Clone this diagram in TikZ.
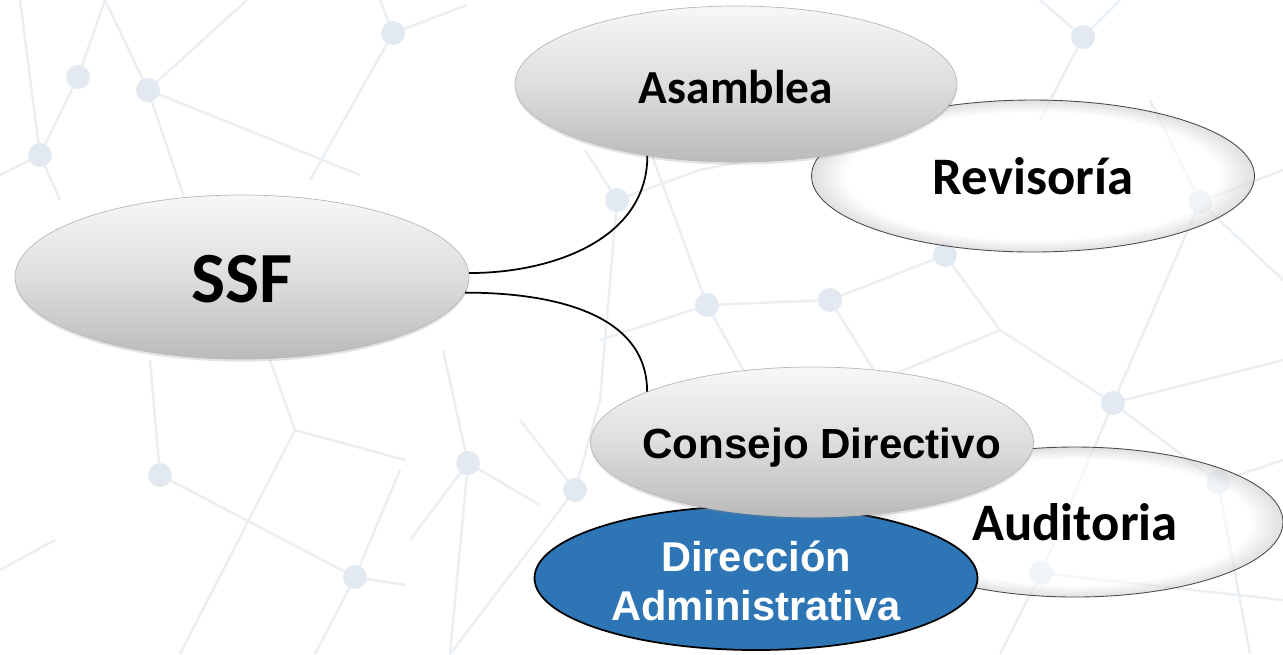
\documentclass[tikz,border=0pt]{standalone}
\usepackage{fontspec}
\setmainfont{Carlito}
\newfontfamily\arialfont{Liberation Sans}
\usetikzlibrary{shapes.geometric,shadows}
\definecolor{netline}{HTML}{EAEFF4}
\definecolor{netdot}{HTML}{E3E9F0}
\definecolor{dirblue}{HTML}{2E75B6}
\pgfdeclareradialshading{glass}{\pgfpoint{0bp}{0bp}}{color(0bp)=(white); color(21bp)=(white); color(25bp)=(black!22); color(50bp)=(black!22)}
\newcommand{\nobox}[1]{\makebox[0pt][c]{#1}}
\newcommand{\lowered}[2]{\raisebox{-#1}[\height][\depth]{#2}}

\begin{document}
\begin{tikzpicture}[x=0.02cm,y=-0.02cm]
  \tikzstyle{bubble}=[ellipse, inner sep=0pt, font=\bfseries, draw=black!28, line width=0.4pt,
    top color=black!3, bottom color=black!27, middle color=black!13,
    drop shadow={opacity=0.22, shadow xshift=0pt, shadow yshift=-1.5pt}]
  \tikzstyle{glassy}=[ellipse, inner sep=0pt, font=\bfseries, draw=black!70, line width=0.5pt,
    shading=glass, fill opacity=0.55, text opacity=1]
  \tikzstyle{blueish}=[ellipse, inner sep=0pt, draw=black, line width=1pt, fill=dirblue,
    text=white, align=center, font=\arialfont\bfseries\fontsize{23.7}{28}\selectfont]
  \tikzstyle{link}=[black, line width=1pt]
  \tikzstyle{net}=[netline, line width=1.4pt]

  \clip (0,0) rectangle (1283,654);
  \fill[white] (0,0) rectangle (1283,654);

  % faint network in the back
  \foreach \xa/\ya/\xb/\yb in {20/0/40/155, 40/155/0/175, 40/155/78/77, 78/77/105/0,
      40/155/60/200, 148/90/105/0, 148/90/247/0, 148/90/360/175, 148/90/185/200,
      393/33/310/180, 393/33/380/0, 393/33/467/5, 160/475/150/360, 160/475/355/577,
      0/570/55/540, 295/430/270/360, 295/430/405/460, 295/430/180/654, 355/577/405/585,
      355/577/315/654, 355/577/400/470, 468/463/443/350, 468/463/540/505, 468/463/410/540,
      468/463/450/654, 617/200/585/150, 617/200/700/170, 700/170/800/150, 617/200/600/400,
      707/305/650/150, 707/305/830/300, 707/305/600/340, 707/305/760/400, 575/490/600/400,
      575/490/450/654, 575/490/520/420, 1083/37/1040/0, 1083/37/1120/0, 1083/37/1040/120,
      1200/202/1283/170, 1200/202/1113/403, 1200/202/1150/100, 1113/403/1218/482,
      1218/482/1283/460, 1113/403/1041/573, 1113/403/1283/360, 1113/403/1000/330,
      1041/573/1000/654, 1041/573/1283/600, 1218/482/1250/654, 830/300/945/255,
      830/300/880/380, 880/380/1000/330, 945/255/1000/330, 1283/280/1200/202}
    \draw[net] (\xa,\ya) -- (\xb,\yb);
  \foreach \x/\y in {40/155, 148/90, 78/77, 393/33, 160/475, 355/577, 468/463, 617/200,
      707/305, 575/490, 1083/37, 1200/202, 1113/403, 1041/573, 1218/482, 830/300, 945/255}
    \fill[netdot] (\x,\y) circle[radius=12];

  % the chart
  \node[glassy, minimum width=443*0.02cm, minimum height=152*0.02cm] (rev) at (1033,176)
    {\fontsize{30}{36}\selectfont Revisoría};
  \node[bubble, minimum width=442*0.02cm, minimum height=156*0.02cm] (asam) at (736,84)
    {\fontsize{27}{32}\selectfont\lowered{1.7pt}{Asamblea}};
  \node[bubble, minimum width=454*0.02cm, minimum height=164*0.02cm] (ssf) at (242,277)
    {\fontsize{41}{49}\selectfont\lowered{1.2pt}{SSF}};
  \node[glassy, minimum width=416*0.02cm, minimum height=150*0.02cm] (aud) at (1075,522)
    {\fontsize{30}{36}\selectfont Auditoria};
  \node[blueish, minimum width=443*0.02cm, minimum height=144*0.02cm] (dir) at (756,578)
    {\nobox{\lowered{1.7pt}{Dirección}}\\\nobox{\lowered{1.7pt}{Administrativa}}};
  \node[bubble, minimum width=443*0.02cm, minimum height=150*0.02cm] (cons) at (812,442)
    {\arialfont\bfseries\fontsize{24}{29}\selectfont\nobox{\hspace*{11pt}\lowered{3.4pt}{Consejo Directivo}}};

  \draw[link] (ssf.1) to[out=0, in=-90] (asam.219);
  \draw[link] (ssf.-4) to[out=0, in=90] (cons.163);
\end{tikzpicture}
\end{document}
